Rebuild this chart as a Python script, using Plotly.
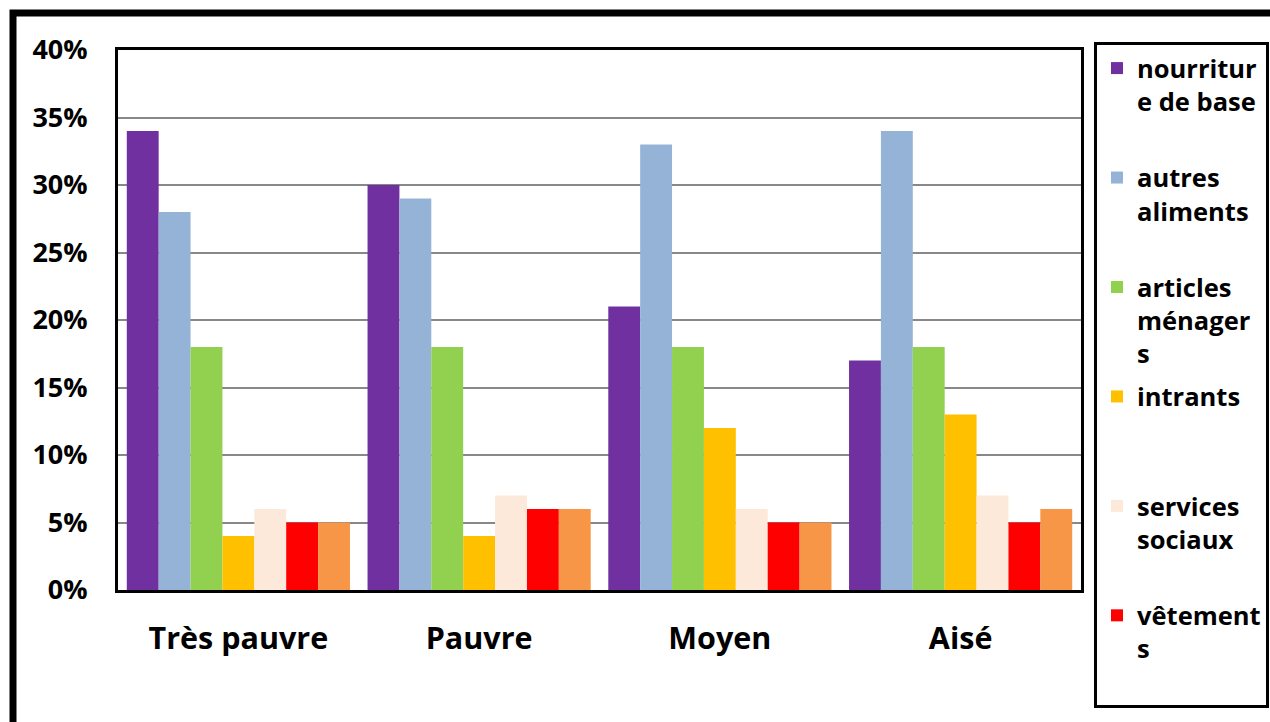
import plotly.graph_objects as go

categories = ["Très pauvre", "Pauvre", "Moyen", "Aisé"]
series_names = ["nourriture de base", "autres aliments", "articles ménagers",
                "intrants", "services sociaux", "vêtements", "autres"]
legend_labels = ["nourritur<br>e de base<br> ", "autres<br>aliments<br> ",
                 "articles<br>ménager<br>s", "intrants<br> <br> ",
                 "services<br>sociaux<br> ", "vêtement<br>s<br> ", "autres"]
nourriture = [0.34, 0.30, 0.21, 0.17]
autres_aliments = [0.28, 0.29, 0.33, 0.34]
articles = [0.18, 0.18, 0.18, 0.18]
intrants = [0.04, 0.04, 0.12, 0.13]
services = [0.06, 0.07, 0.06, 0.07]
vetements = [0.05, 0.06, 0.05, 0.05]
autres = [0.05, 0.06, 0.05, 0.06]
colors = ["#7030A0", "#95B3D7", "#92D050", "#FFC000", "#FDE9D9", "#FF0000", "#F79646"]
all_values = [nourriture, autres_aliments, articles, intrants, services, vetements, autres]

FONT = "Open Sans"
W, H = 1270, 722
L, R, T, B = 118, 1081, 50, 590

fig = go.Figure()
for i, (vals, lab, col) in enumerate(zip(all_values, legend_labels, colors)):
    fig.add_trace(go.Bar(
        x=categories, y=vals, name=lab, marker=dict(color=col, line=dict(width=0)),
        showlegend=(i < 6), legendgroup=f"g{i}", hovertext=series_names[i],
    ))

def px_x(p):
    return (p - L) / (R - L)

def px_y(p):
    return (B - p) / (B - T)

fig.add_shape(type="rect", xref="paper", yref="paper",
              x0=px_x(13), x1=px_x(1290), y0=px_y(740), y1=px_y(13),
              line=dict(color="black", width=7), layer="above")

fig.update_layout(
    width=W, height=H,
    margin=dict(l=L, r=W - R, t=T, b=H - B, pad=0, autoexpand=False),
    paper_bgcolor="white", plot_bgcolor="white",
    barmode="group", bargap=0.073, bargroupgap=0,
    font=dict(family=FONT, color="black", size=26, weight="bold"),
    legend=dict(
        x=px_x(1094), y=px_y(42), xanchor="left", yanchor="top",
        bordercolor="black", borderwidth=3, bgcolor="white",
        font=dict(family=FONT, size=25.5, color="black", weight="bold"),
        valign="top", tracegroupgap=7, itemwidth=30, maxheight=700,
    ),
    xaxis=dict(
        showline=True, linecolor="black", linewidth=3, mirror=True,
        tickfont=dict(family=FONT, size=30.5, weight="bold"),
        ticks="", ticklabelstandoff=19, showgrid=False,
    ),
    yaxis=dict(
        range=[0, 0.4], tickvals=[0, 0.05, 0.1, 0.15, 0.2, 0.25, 0.3, 0.35, 0.4],
        tickformat=".0%",
        showline=True, linecolor="black", linewidth=3, mirror=True,
        showgrid=True, gridcolor="#888888", gridwidth=2, zeroline=False,
        tickfont=dict(family=FONT, size=27, weight="bold"),
        ticks="", ticklabelstandoff=22,
    ),
)

fig.write_html("out.html")
